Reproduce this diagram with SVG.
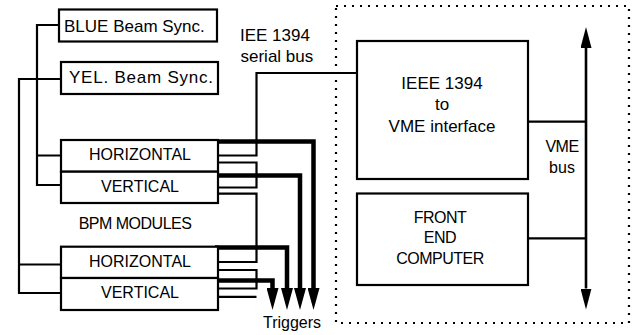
<svg xmlns="http://www.w3.org/2000/svg" width="633" height="335" viewBox="0 0 633 335">
<defs>
<style>
text{font-family:"Liberation Sans",Arial,sans-serif;fill:#000}
.box{fill:#fff;stroke:#000;stroke-width:2.2}
.lbl{font-size:16px;text-anchor:middle}
.big{font-size:17px}
.mid{text-anchor:middle}
.wire{fill:none;stroke:#000;stroke-width:2.2}
.trig{fill:none;stroke:#000;stroke-width:4.5;stroke-linejoin:miter}
.bus{fill:none;stroke:#000;stroke-width:2.6}
.dots{fill:none;stroke:#000;stroke-width:2.2;stroke-dasharray:2 6}
.tight{letter-spacing:-0.5px}
</style>
<marker id="head" markerUnits="userSpaceOnUse" markerWidth="22" markerHeight="12" refX="0" refY="6" orient="auto-start-reverse" viewBox="0 0 22 12">
<path d="M0,0 L22,6 L0,12 Z" fill="#000"/>
</marker>
<marker id="vhead" markerUnits="userSpaceOnUse" markerWidth="21" markerHeight="11" refX="0" refY="5.5" orient="auto-start-reverse" viewBox="0 0 21 11">
<path d="M0,0 L21,5.5 L0,11 Z" fill="#000"/>
</marker>
</defs>
<rect width="633" height="335" fill="#fff"/>

<g id="crate">
<rect class="dots" x="336" y="6" width="293" height="317"/>
</g>

<g id="connectors">
<!-- sync distribution -->
<path class="wire" d="M59,25 H37 V185 H61 M37,155.5 H61"/>
<path class="wire" d="M61,79 H19 V293 H61 M19,264.5 H61"/>
<!-- IEEE 1394 daisy chain -->
<path class="wire" d="M357,73 H256.5 V155.5 H218"/>
<path class="wire" d="M218,162.5 H256.5 V187.5 H218"/>
<path class="wire" d="M218,193.7 H256.5 V262 H218"/>
<path class="wire" d="M218,270 H256.5 V288.5 H218"/>
<path class="wire" d="M218,296.8 H256.5"/>
<!-- triggers -->
<path class="trig" d="M215,141.5 H313.5 V288" marker-end="url(#head)"/>
<path class="trig" d="M218,175.5 H300 V288" marker-end="url(#head)"/>
<path class="trig" d="M215,247.5 H287 V288" marker-end="url(#head)"/>
<path class="trig" d="M218,280.5 H272.5 V288" marker-end="url(#head)"/>
<!-- VME bus -->
<path class="bus" d="M586,48 V288.5" marker-start="url(#vhead)" marker-end="url(#vhead)"/>
<path class="wire" d="M528,121.7 H586 M528,238.3 H586"/>
</g>

<g id="blue-sync">
<rect class="box" x="59" y="9.5" width="158" height="32"/>
<text class="big" x="64" y="31.7">BLUE Beam Sync.</text>
</g>
<g id="yel-sync">
<rect class="box" x="61" y="62" width="157" height="32"/>
<text class="big" x="69" y="83.3" textLength="144">YEL. Beam Sync.</text>
</g>

<g id="bpm-a">
<g id="bpm-a-h">
<rect class="box" x="61" y="140" width="157" height="31.7"/>
<text class="lbl" x="140" y="159.5">HORIZONTAL</text>
</g>
<g id="bpm-a-v">
<rect class="box" x="61" y="171.7" width="157" height="31.3"/>
<text class="lbl" x="140" y="191.7">VERTICAL</text>
</g>
</g>

<g id="bpm-label">
<text class="lbl tight" x="135" y="229">BPM MODULES</text>
</g>

<g id="bpm-b">
<g id="bpm-b-h">
<rect class="box" x="61" y="246.7" width="157" height="31.3"/>
<text class="lbl" x="140" y="266.7">HORIZONTAL</text>
</g>
<g id="bpm-b-v">
<rect class="box" x="61" y="278" width="157" height="32"/>
<text class="lbl" x="140" y="298.3">VERTICAL</text>
</g>
</g>

<g id="serial-label">
<text class="big" x="240" y="40.7">IEE 1394</text>
<text class="big" x="240.5" y="61.7">serial bus</text>
</g>

<g id="interface">
<rect class="box" x="357" y="41" width="171" height="138"/>
<text class="big mid" x="442" y="89.3">IEEE 1394</text>
<text class="big mid" x="442" y="110">to</text>
<text class="big mid" x="442" y="131.7">VME interface</text>
</g>

<g id="fec">
<rect class="box" x="357" y="193.5" width="171" height="91.5"/>
<text class="lbl tight" x="440" y="222.7">FRONT</text>
<text class="lbl tight" x="440" y="242.7">END</text>
<text class="lbl tight" x="440" y="264">COMPUTER</text>
</g>

<g id="vme-label">
<text class="lbl tight" x="562" y="151.7">VME</text>
<text class="lbl" x="562" y="172.7">bus</text>
</g>

<g id="triggers-label">
<text class="lbl" x="292" y="327.5">Triggers</text>
</g>
</svg>
